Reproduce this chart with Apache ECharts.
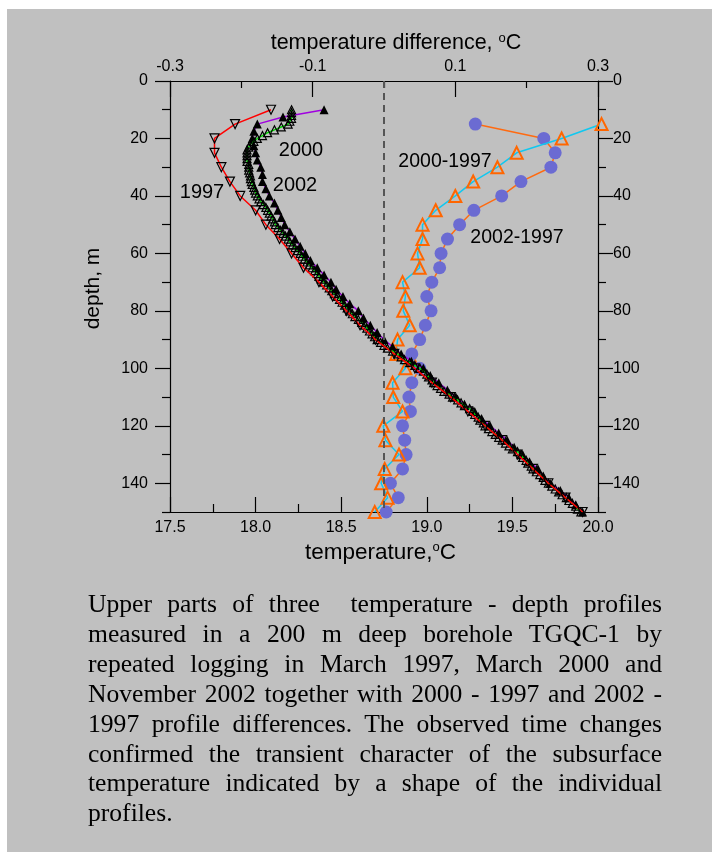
<!DOCTYPE html>
<html>
<head>
<meta charset="utf-8">
<script src="https://cdn.jsdelivr.net/npm/echarts@6/dist/echarts.min.js"></script>
<style>
  html, body { margin: 0; padding: 0; background: #ffffff; }
  #bg { position: absolute; left: 7px; top: 9px; width: 705px; height: 843px; background: #c0c0c0; }
  #chart { position: absolute; left: 0; top: 0; width: 712px; height: 852px; }
  #caption { position: absolute; left: 88px; top: 589px; width: 574px; font-family: "Liberation Serif", "Times New Roman", serif; font-size: 25.6px; line-height: 29.9px; color: #000; }
  #caption div { text-align: justify; text-align-last: justify; white-space: nowrap; }
  #caption div.last { text-align-last: left; }
</style>
</head>
<body>
<div id="bg"></div>
<div id="chart"></div>
<div id="caption">
  <div>Upper parts of three&nbsp; temperature - depth profiles</div>
  <div>measured in a 200 m deep borehole TGQC-1 by</div>
  <div>repeated logging in March 1997, March 2000 and</div>
  <div>November 2002 together with 2000 - 1997 and 2002 -</div>
  <div>1997 profile differences. The observed time changes</div>
  <div>confirmed the transient character of the subsurface</div>
  <div>temperature indicated by a shape of the individual</div>
  <div class="last">profiles.</div>
</div>
<script>
// ---- data ----
const depth1997 = [10,15,20,25,30,35,40,45,50,55,60,65,70,75,80,85,90,95,100,105,110,115,120,125,130,135,140,145,150];
const temp1997 = [18.09,17.88,17.76,17.76,17.80,17.85,17.91,18.00,18.06,18.14,18.21,18.28,18.37,18.45,18.53,18.61,18.70,18.81,18.93,19.03,19.14,19.24,19.34,19.44,19.53,19.62,19.71,19.81,19.91];

const depth2000 = [10,11,12,13,14,15,16,17,18,19,20,21,22,23,24,25,26,27,28,29,30,31,32,33,34,35,36,37,38,39,40,41,42,43,44,45,46,47,48,49,50,51,52,53,54,55,56,57,58,59,60,61,62,63,64,65,66,67,68,69,70,71,72,73,74,75,76,77,78,79,80,81,82,83,84,85,86,87,88,89,90,91,92,93,94,95,96,97,98,99,100,101,102,103,104,105,106,107,108,109,110,111,112,113,114,115,116,117,118,119,120,121,122,123,124,125,126,127,128,129,130,131,132,133,134,135,136,137,138,139,140,141,142,143,144,145,146,147,148,149,150];
const temp2000 = [18.21,18.21,18.21,18.21,18.20,18.19,
  18.15,18.11,18.07,18.04,18.01,
  17.99,17.97,17.96,17.95,17.95,
  17.95,17.95,17.95,17.96,17.96,
  17.96,17.965,17.97,17.97,17.975,
  17.98,17.99,17.995,18.00,18.01,
  18.02,18.03,18.045,18.06,18.07,
  18.08,18.09,18.10,18.11,18.115,
  18.13,18.145,18.16,18.175,18.19,
  18.20,18.215,18.23,18.245,18.26,
  18.27,18.285,18.30,18.315,18.33,
  18.345,18.36,18.37,18.385,18.40,
  18.415,18.43,18.445,18.46,18.48,
  18.49,18.505,18.52,18.535,18.55,
  18.565,18.58,18.60,18.62,18.64,
  18.65,18.665,18.68,18.695,18.71,
  18.73,18.75,18.77,18.80,18.83,
  18.85,18.87,18.90,18.93,18.96,
  18.98,19.00,19.01,19.03,19.04,
  19.06,19.08,19.10,19.13,19.15,
  19.18,19.20,19.22,19.25,19.27,
  19.28,19.30,19.31,19.33,19.34,
  19.36,19.38,19.40,19.42,19.44,
  19.46,19.48,19.50,19.53,19.55,
  19.56,19.58,19.59,19.61,19.62,
  19.64,19.66,19.68,19.69,19.71,
  19.73,19.75,19.77,19.79,19.815,
  19.83,19.85,19.87,19.88,19.90];

const depth2002 = [10,12.5,15,17.5,20,22.5,25,27.5,30,32.5,35,37.5,40,42.5,45,47.5,50,52.5,55,57.5,60,62.5,65,67.5,70,72.5,75,77.5,80,82.5,85,87.5,90,92.5,95,97.5,100,102.5,105,107.5,110,112.5,115,117.5,120,122.5,125,127.5,130,132.5,135,137.5,140,142.5,145,147.5,150];
const temp2002 = [18.40,18.16,18.01,17.99,17.98,17.99,18.00,18.01,18.03,18.04,18.04,18.06,18.08,18.11,18.13,18.15,18.17,18.20,18.23,18.26,18.29,18.32,18.36,18.40,18.44,18.47,18.51,18.55,18.60,18.63,18.67,18.71,18.75,18.80,18.85,18.91,18.98,19.02,19.07,19.12,19.17,19.22,19.28,19.32,19.37,19.42,19.47,19.51,19.56,19.60,19.65,19.68,19.72,19.78,19.83,19.87,19.91];

const depthDiff = [15,20,25,30,35,40,45,50,55,60,65,70,75,80,85,90,95,100,105,110,115,120,125,130,135,140,145,150];
const diff2000 = [0.305,0.249,0.186,0.159,0.125,0.100,0.0725,0.054,0.054,0.047,0.050,0.026,0.030,0.027,0.036,0.019,0.017,0.030,0.012,0.013,0.026,-0.001,0.002,0.021,0.001,-0.004,0.005,-0.013];
const diff2002 = [0.128,0.224,0.240,0.234,0.192,0.165,0.126,0.106,0.089,0.080,0.078,0.067,0.060,0.066,0.058,0.050,0.039,0.050,0.039,0.035,0.037,0.026,0.029,0.031,0.026,0.009,0.020,0.003];

const diffMajorTicks = [-0.3, -0.1, 0.1, 0.3];
const diffMinorTicks = [-0.2, 0, 0.2];
const depthMajorTicks = [0, 20, 40, 60, 80, 100, 120, 140];
const depthMinorTicks = [10, 30, 50, 70, 90, 110, 130, 150];

function pairs(xs, ys) { return xs.map((x, i) => [x, ys[i]]); }

const FONT = 'Liberation Sans';
const chart = echarts.init(document.getElementById('chart'), null, { renderer: 'canvas' });

const AX = { color: '#000', width: 1.2 };
const baseY = { type: 'value', min: 0, max: 150, inverse: true, splitLine: { show: false } };
const supRich = (size) => ({
  a: { fontSize: size, fontFamily: FONT, color: '#000' },
  s: { fontSize: 13, fontFamily: FONT, color: '#000', verticalAlign: 'top', padding: [0, 0, 9, 0] }
});

const option = {
  backgroundColor: 'transparent',
  animation: false,
  grid: { left: 170, top: 81, width: 428, height: 431, containLabel: false },
  xAxis: [
    {
      type: 'value', position: 'bottom', min: 17.5, max: 20.0, interval: 0.5,
      axisLine: { show: true, onZero: false, lineStyle: AX },
      axisTick: { show: true, inside: true, length: 15, lineStyle: AX },
      minorTick: { show: true, splitNumber: 2, length: 8, lineStyle: AX },
      splitLine: { show: false },
      axisLabel: { color: '#000', fontSize: 16, fontFamily: FONT, margin: 8, formatter: v => v.toFixed(1) },
      name: '{a|temperature,}{s|o}{a|C}', nameLocation: 'middle', nameGap: 25,
      nameTextStyle: { rich: supRich(22.5), padding: [0, 7, 0, 0] }
    },
    {
      type: 'value', position: 'top', min: -0.3, max: 0.3,
      axisLine: { show: true, onZero: false, lineStyle: AX },
      axisTick: { show: true, inside: true, length: 16, customValues: diffMajorTicks, lineStyle: AX },
      splitLine: { show: false },
      axisLabel: { color: '#000', fontSize: 16, fontFamily: FONT, margin: 6, customValues: diffMajorTicks, formatter: v => v.toFixed(1) },
      name: '{a|temperature difference, }{s|o}{a|C}', nameLocation: 'middle', nameGap: 27,
      nameTextStyle: { rich: supRich(21.5), padding: [0, 0, 0, 24] }
    },
    {
      type: 'value', position: 'top', min: -0.3, max: 0.3,
      axisLine: { show: false, onZero: false },
      axisTick: { show: true, inside: true, length: 7, customValues: diffMinorTicks, lineStyle: AX },
      splitLine: { show: false },
      axisLabel: { show: false }
    }
  ],
  yAxis: [
    Object.assign({}, baseY, {
      position: 'left',
      axisLine: { show: true, onZero: false, lineStyle: AX },
      axisTick: { show: true, inside: false, length: 15, customValues: depthMajorTicks, lineStyle: AX },
      axisLabel: { color: '#000', fontSize: 16, fontFamily: FONT, margin: 22, customValues: depthMajorTicks },
      name: 'depth, m', nameLocation: 'middle', nameGap: 66, nameRotate: 90,
      nameTextStyle: { fontSize: 21, fontFamily: FONT, color: '#000', padding: [0, 0, 0, 16] }
    }),
    Object.assign({}, baseY, {
      position: 'left',
      axisLine: { show: false, onZero: false },
      axisTick: { show: true, inside: false, length: 8, customValues: depthMinorTicks, lineStyle: AX },
      axisLabel: { show: false }
    }),
    Object.assign({}, baseY, {
      position: 'right',
      axisLine: { show: true, onZero: false, lineStyle: AX },
      axisTick: { show: true, inside: false, length: 15, customValues: depthMajorTicks, lineStyle: AX },
      axisLabel: { color: '#000', fontSize: 16, fontFamily: FONT, margin: 15, customValues: depthMajorTicks }
    }),
    Object.assign({}, baseY, {
      position: 'right',
      axisLine: { show: false, onZero: false },
      axisTick: { show: true, inside: false, length: 8, customValues: depthMinorTicks, lineStyle: AX },
      axisLabel: { show: false }
    })
  ],
  series: [
    {
      name: '2002-1997', type: 'line', xAxisIndex: 1, yAxisIndex: 0, clip: false,
      data: pairs(diff2002, depthDiff),
      symbol: 'circle', symbolSize: 13,
      itemStyle: { color: '#6b6bd2', borderWidth: 0 },
      lineStyle: { color: '#ff6a10', width: 1.5 },
      z: 2
    },
    {
      name: '2000-1997', type: 'line', xAxisIndex: 1, yAxisIndex: 0, clip: false,
      data: pairs(diff2000, depthDiff),
      symbol: 'triangle', symbolSize: 12,
      itemStyle: { color: 'rgba(0,0,0,0)', borderColor: '#ff6600', borderWidth: 2 },
      lineStyle: { color: '#10c8f0', width: 1.5 },
      markLine: {
        silent: true, symbol: 'none', label: { show: false },
        lineStyle: { color: '#555', type: [7, 5], width: 2 },
        data: [{ xAxis: 0 }]
      },
      z: 3
    },
    {
      name: '2002', type: 'line', xAxisIndex: 0, yAxisIndex: 0, clip: false,
      data: pairs(temp2002, depth2002),
      symbol: 'triangle', symbolSize: 9,
      itemStyle: { color: '#000', borderWidth: 0 },
      lineStyle: { color: '#a000e0', width: 1.5 },
      z: 4
    },
    {
      name: '2000', type: 'line', xAxisIndex: 0, yAxisIndex: 0, clip: false,
      data: pairs(temp2000, depth2000),
      symbol: 'triangle', symbolSize: 8,
      itemStyle: { color: 'rgba(0,0,0,0)', borderColor: '#000', borderWidth: 1.2 },
      lineStyle: { color: '#00dd00', width: 1.5 },
      z: 5
    },
    {
      name: '1997', type: 'line', xAxisIndex: 0, yAxisIndex: 0, clip: false,
      data: pairs(temp1997, depth1997),
      symbol: 'triangle', symbolRotate: 180, symbolSize: 9,
      itemStyle: { color: 'rgba(0,0,0,0)', borderColor: '#000', borderWidth: 1.2 },
      lineStyle: { color: '#ff0000', width: 1.5 },
      z: 6
    }
  ],
  graphic: [
    { type: 'text', x: 301, y: 150, style: { text: '2000', font: '20px "Liberation Sans"', fill: '#000', align: 'center', verticalAlign: 'middle' }, z: 10 },
    { type: 'text', x: 295, y: 185, style: { text: '2002', font: '20px "Liberation Sans"', fill: '#000', align: 'center', verticalAlign: 'middle' }, z: 10 },
    { type: 'text', x: 202, y: 192, style: { text: '1997', font: '20px "Liberation Sans"', fill: '#000', align: 'center', verticalAlign: 'middle' }, z: 10 },
    { type: 'text', x: 445, y: 162, style: { text: '2000-1997', font: '19.5px "Liberation Sans"', fill: '#000', align: 'center', verticalAlign: 'middle' }, z: 10 },
    { type: 'text', x: 517, y: 238, style: { text: '2002-1997', font: '19.5px "Liberation Sans"', fill: '#000', align: 'center', verticalAlign: 'middle' }, z: 10 }
  ]
};
chart.setOption(option);
</script>
</body>
</html>
